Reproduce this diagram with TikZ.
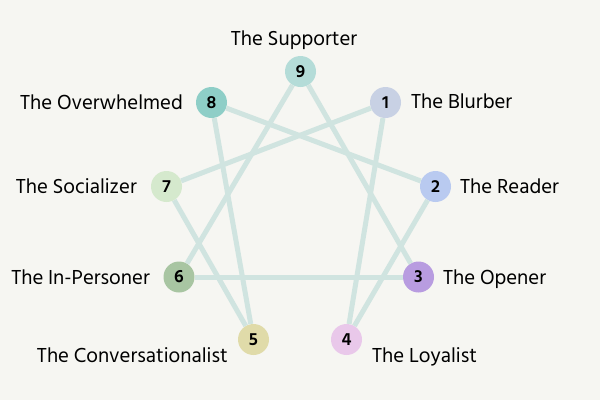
\documentclass[tikz,border=0pt]{standalone}
\usepackage{fontspec}
\setmainfont{Hind Siliguri}
\usepackage{tikz}

\definecolor{paper}{HTML}{F6F6F2}
\definecolor{linkc}{HTML}{D0E4E0}
\definecolor{cOne}{HTML}{C8D1E4}
\definecolor{cTwo}{HTML}{B9CAF0}
\definecolor{cThree}{HTML}{B89CE0}
\definecolor{cFour}{HTML}{E9C8EA}
\definecolor{cFive}{HTML}{E0DBA9}
\definecolor{cSix}{HTML}{A8C5A2}
\definecolor{cSeven}{HTML}{D5E9CD}
\definecolor{cEight}{HTML}{8ECEC7}
\definecolor{cNine}{HTML}{B4DCD8}

\begin{document}
\begin{tikzpicture}[x=1pt, y=-1pt,
    num/.style={circle, minimum size=31pt, inner sep=0pt, font=\fontsize{18}{18}\selectfont\bfseries},
    lbl/.style={inner sep=0pt, font=\fontsize{20.8}{20.8}\selectfont},
    link/.style={draw=linkc, line width=5pt}]
    \fill[paper] (0,0) rectangle (600,400);

    % Points
    \node[num, fill=cNine] (SUPPORTER) at (300.5,71.5) {9};
    \node[num, fill=cOne] (BLURBER) at (385.5,102.5) {1};
    \node[num, fill=cTwo] (READER) at (435.5,186.5) {2};
    \node[num, fill=cThree] (OPENER) at (418.5,277) {3};
    \node[num, fill=cFour] (LOYALIST) at (346.5,339.5) {4};
    \node[num, fill=cFive] (CONVERSATIONALIST) at (253.5,339.5) {5};
    \node[num, fill=cSix] (INPERSONER) at (179,277) {6};
    \node[num, fill=cSeven] (SOCIALIZER) at (166.5,186.5) {7};
    \node[num, fill=cEight] (OVERWHELMED) at (211.5,102.5) {8};

    % Names
    \node[lbl, anchor=base] (SUPPORTERname) at (294,45) {The Supporter};
    \node[lbl, anchor=base west] (BLURBERname) at (411,108.5) {The Blurber};
    \node[lbl, anchor=base west] (READERname) at (460,193.5) {The Reader};
    \node[lbl, anchor=base west] (OPENERname) at (443,284.5) {The Opener};
    \node[lbl, anchor=base west] (LOYALISTname) at (372,362) {The Loyalist};
    \node[lbl, anchor=base east] (CONVERSATIONALISTname) at (228,362) {The Conversationalist};
    \node[lbl, anchor=base east] (INPERSONERname) at (150,284.5) {The In-Personer};
    \node[lbl, anchor=base east] (SOCIALIZERname) at (137,193.5) {The Socializer};
    \node[lbl, anchor=base east] (OVERWHELMEDname) at (183,109) {The Overwhelmed};

    % Lines
    \draw[link] (SUPPORTER) -- (INPERSONER);
    \draw[link] (INPERSONER) -- (OPENER);
    \draw[link] (OPENER) -- (SUPPORTER);
    \draw[link] (BLURBER) -- (SOCIALIZER);
    \draw[link] (SOCIALIZER) -- (CONVERSATIONALIST);
    \draw[link] (CONVERSATIONALIST) -- (OVERWHELMED);
    \draw[link] (OVERWHELMED) -- (READER);
    \draw[link] (READER) -- (LOYALIST);
    \draw[link] (LOYALIST) -- (BLURBER);
\end{tikzpicture}
\end{document}
